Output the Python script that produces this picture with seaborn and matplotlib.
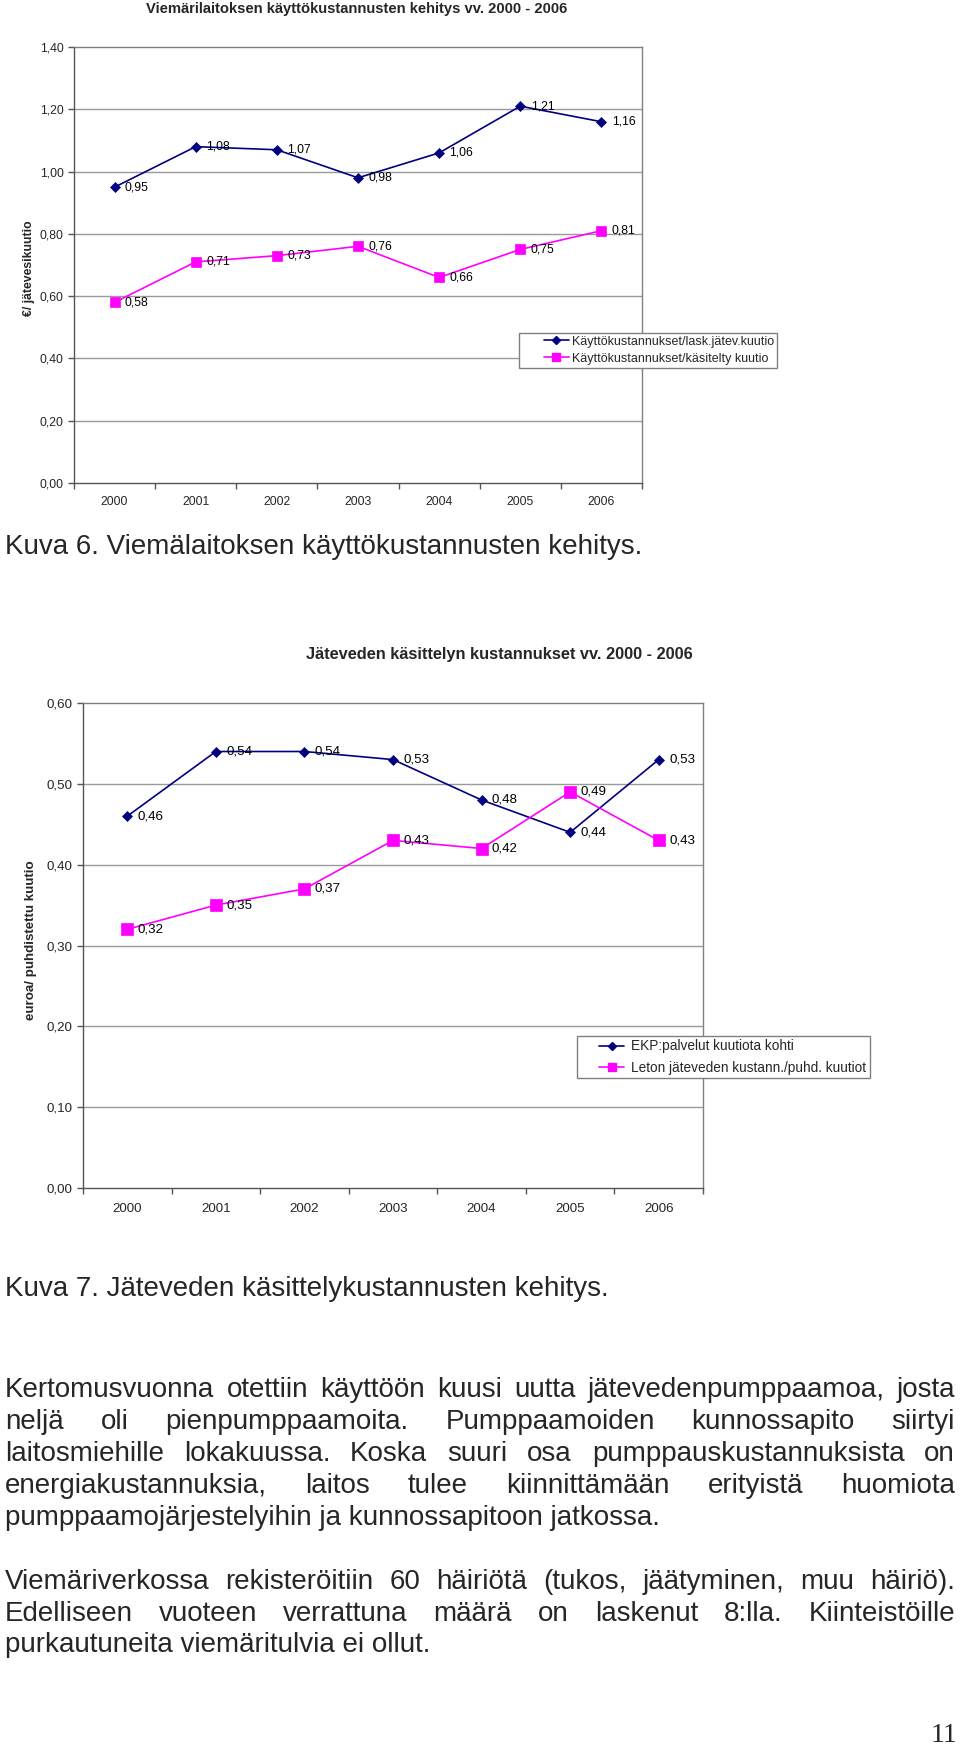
import numpy as np
import pandas as pd
import matplotlib
matplotlib.use("Agg")
import matplotlib.pyplot as plt
import seaborn as sns
from matplotlib.lines import Line2D
from matplotlib.legend_handler import HandlerLine2D

# ---------------- data ----------------
years = ["2000", "2001", "2002", "2003", "2004", "2005", "2006"]

c1_title = "Viemärilaitoksen käyttökustannusten kehitys vv. 2000 - 2006"
c1_ylabel = "€/ jätevesikuutio"
c1_s1_name = "Käyttökustannukset/lask.jätev.kuutio"
c1_s1 = [0.95, 1.08, 1.07, 0.98, 1.06, 1.21, 1.16]
c1_s2_name = "Käyttökustannukset/käsitelty kuutio"
c1_s2 = [0.58, 0.71, 0.73, 0.76, 0.66, 0.75, 0.81]
c1_yticks = [0.0, 0.2, 0.4, 0.6, 0.8, 1.0, 1.2, 1.4]
c1_yticklabels = ["0,00", "0,20", "0,40", "0,60", "0,80", "1,00", "1,20", "1,40"]

c2_title = "Jäteveden käsittelyn kustannukset vv. 2000 - 2006"
c2_ylabel = "euroa/ puhdistettu kuutio"
c2_s1_name = "EKP:palvelut kuutiota kohti"
c2_s1 = [0.46, 0.54, 0.54, 0.53, 0.48, 0.44, 0.53]
c2_s2_name = "Leton jäteveden kustann./puhd. kuutiot"
c2_s2 = [0.32, 0.35, 0.37, 0.43, 0.42, 0.49, 0.43]
c2_yticks = [0.0, 0.1, 0.2, 0.3, 0.4, 0.5, 0.6]
c2_yticklabels = ["0,00", "0,10", "0,20", "0,30", "0,40", "0,50", "0,60"]

caption6 = "Kuva 6. Viemälaitoksen käyttökustannusten kehitys."
caption7 = "Kuva 7. Jäteveden käsittelykustannusten kehitys."
para1 = [
    "Kertomusvuonna otettiin käyttöön kuusi uutta jätevedenpumppaamoa, josta",
    "neljä oli pienpumppaamoita. Pumppaamoiden kunnossapito siirtyi",
    "laitosmiehille lokakuussa. Koska suuri osa pumppauskustannuksista on",
    "energiakustannuksia, laitos tulee kiinnittämään erityistä huomiota",
    "pumppaamojärjestelyihin ja kunnossapitoon jatkossa.",
]
para2 = [
    "Viemäriverkossa rekisteröitiin 60 häiriötä (tukos, jäätyminen, muu häiriö).",
    "Edelliseen vuoteen verrattuna määrä on laskenut 8:lla. Kiinteistöille",
    "purkautuneita viemäritulvia ei ollut.",
]
page_no = "11"

# ---------------- style ----------------
NAVY = "#000080"
MAGENTA = "#FF00FF"
GRID = "#9a9a9a"
FRAME = "#808080"
AXIS = "#555555"

sns.set_theme(style="white")
plt.rcParams["font.family"] = ["Liberation Sans", "DejaVu Sans"]

W, H = 960, 1747
fig = plt.figure(figsize=(W / 100, H / 100), dpi=100)
fig.patch.set_facecolor("white")


def fx(x):
    return x / W


def fy(y):
    return 1 - y / H


class RightHandler(HandlerLine2D):
    def __init__(self, frac=0.55, **kw):
        super().__init__(**kw)
        self.frac = frac

    def create_artists(self, legend, orig_handle, xdescent, ydescent, width,
                       height, fontsize, trans):
        shift = width * (1 - self.frac)
        return super().create_artists(legend, orig_handle, xdescent - shift,
                                      ydescent, width * self.frac, height,
                                      fontsize, trans)


def fmt(v):
    return f"{v:.2f}".replace(".", ",")


def draw_chart(box, s1, s2, n1, n2, yticks, yticklabels, title, title_xy,
               title_fs, ylabel, ylabel_xy, fs, msD, msS, legend_xy, leg_fs,
               hl, frac, htp, lsp, bp, xpad):
    l, t, r, b = box
    ax = fig.add_axes([fx(l), fy(b), (r - l) / W, (b - t) / H])
    pos = np.arange(len(years))
    df1 = pd.DataFrame({"pos": pos, "value": s1})
    df2 = pd.DataFrame({"pos": pos, "value": s2})
    sns.lineplot(data=df1, x="pos", y="value", ax=ax, color=NAVY, marker="D",
                 markersize=msD, markeredgecolor=NAVY, markeredgewidth=0.5,
                 linewidth=1.2, zorder=3)
    sns.lineplot(data=df2, x="pos", y="value", ax=ax, color=MAGENTA, marker="s",
                 markersize=msS, markeredgecolor=MAGENTA, markeredgewidth=0.5,
                 linewidth=1.2, zorder=3)
    for p, v in zip(pos, s1):
        ax.annotate(fmt(v), (p, v), xytext=(7.5, 0), textcoords="offset points",
                    ha="left", va="center", fontsize=fs, color="black", zorder=4)
    for p, v in zip(pos, s2):
        ax.annotate(fmt(v), (p, v), xytext=(7.5, 0), textcoords="offset points",
                    ha="left", va="center", fontsize=fs, color="black", zorder=4)

    ax.set_xlim(-0.5, len(years) - 0.5)
    ax.set_ylim(yticks[0], yticks[-1])
    ax.set_yticks(yticks)
    ax.set_yticklabels(yticklabels, fontsize=fs)
    ax.set_xticks(np.arange(len(years) + 1) - 0.5)
    ax.set_xticklabels([])
    ax.set_xticks(pos, minor=True)
    ax.set_xticklabels(years, minor=True, fontsize=fs)
    ax.tick_params(axis="x", which="major", direction="out", length=4,
                   width=1, color=AXIS, bottom=True)
    ax.tick_params(axis="x", which="minor", length=0, pad=xpad, bottom=True)
    ax.tick_params(axis="y", which="major", direction="out", length=4,
                   width=1, color=AXIS, left=True, pad=3.5)
    ax.set_xlabel("")
    ax.set_ylabel("")
    ax.grid(False)
    for yv in yticks[1:-1]:
        ax.axhline(yv, color=GRID, linewidth=1, zorder=1)
    ax.spines["left"].set_color(AXIS)
    ax.spines["bottom"].set_color(AXIS)
    ax.spines["top"].set_color(FRAME)
    ax.spines["right"].set_color(FRAME)
    for s in ax.spines.values():
        s.set_linewidth(1)
        s.set_visible(True)
    ax.set_facecolor("white")

    fig.text(fx(title_xy[0]), fy(title_xy[1]), title, ha="center", va="center",
             fontsize=title_fs, fontweight="bold")
    fig.text(fx(ylabel_xy[0]), fy(ylabel_xy[1]), ylabel, ha="center",
             va="center", rotation=90, fontsize=fs, fontweight="bold")

    h1 = Line2D([], [], color=NAVY, marker="D", markersize=msD * 0.8,
                markeredgecolor=NAVY, linewidth=1.2)
    h2 = Line2D([], [], color=MAGENTA, marker="s", markersize=msS * 0.8,
                markeredgecolor=MAGENTA, linewidth=1.2)
    leg = ax.legend([h1, h2], [n1, n2], loc="upper left",
                    bbox_to_anchor=(fx(legend_xy[0]), fy(legend_xy[1])),
                    bbox_transform=fig.transFigure, borderaxespad=0,
                    frameon=True, fancybox=False, framealpha=1,
                    edgecolor=FRAME, fontsize=leg_fs, borderpad=bp,
                    labelspacing=lsp, handlelength=hl, handletextpad=htp,
                    handler_map={Line2D: RightHandler(frac=frac)})
    leg.get_frame().set_linewidth(1)
    return ax


draw_chart((74, 47, 642, 483), c1_s1, c1_s2, c1_s1_name, c1_s2_name,
           c1_yticks, c1_yticklabels, c1_title, (357, 9), 10.6,
           c1_ylabel, (29, 268),
           fs=8.8, msD=5.0, msS=7.5, legend_xy=(519, 333), leg_fs=9,
           hl=3.76, frac=0.53, htp=0.24, lsp=0.4, bp=0.22, xpad=9.5)

draw_chart((83, 703, 703, 1188), c2_s1, c2_s2, c2_s1_name, c2_s2_name,
           c2_yticks, c2_yticklabels, c2_title, (499, 655), 11.8,
           c2_ylabel, (31, 940),
           fs=9.6, msD=5.2, msS=8.0, legend_xy=(577, 1036), leg_fs=9.8,
           hl=3.2, frac=0.57, htp=0.55, lsp=0.55, bp=0.25, xpad=11)

# ---------------- body text ----------------
BODY_FS = 20


def left_line(text, y_center, x0=5, fs=BODY_FS):
    fig.text(fx(x0), fy(y_center + 9), text, ha="left", va="baseline",
             fontsize=fs)


def justified(lines, y_centers, x0=5, x1=955, fs=BODY_FS):
    renderer = fig.canvas.get_renderer()
    for i, (line, yc) in enumerate(zip(lines, y_centers)):
        if i == len(lines) - 1:
            left_line(line, yc, x0, fs)
            continue
        words = line.split()
        texts = [fig.text(0, fy(yc + 9), w, ha="left", va="baseline",
                          fontsize=fs) for w in words]
        widths = [t.get_window_extent(renderer).width for t in texts]
        gap = (x1 - x0 - sum(widths)) / (len(words) - 1)
        x = x0
        for t, w in zip(texts, widths):
            t.set_x(fx(x))
            x += w + gap


left_line(caption6, 545)
left_line(caption7, 1287)
justified(para1, [1388, 1420, 1452, 1484, 1516])
justified(para2, [1580, 1612, 1643])
fig.text(fx(957), fy(1742), page_no, ha="right", va="baseline", fontsize=20,
         family=["Liberation Serif", "DejaVu Serif"])

fig.savefig("out.png", dpi=100, facecolor="white")
